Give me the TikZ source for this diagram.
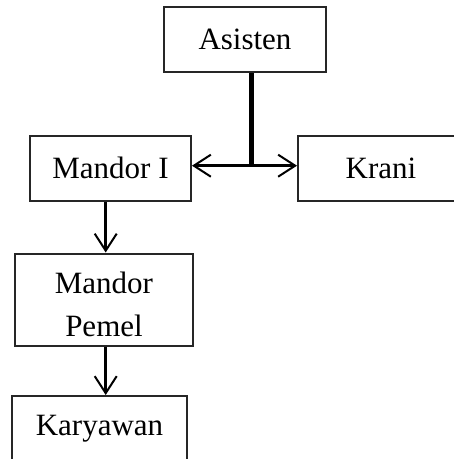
\documentclass[tikz,border=0pt]{standalone}
\usepackage{fontspec}
\setmainfont{Liberation Serif}
\usetikzlibrary{arrows.meta}
\begin{document}
\begin{tikzpicture}[x=1pt,y=1pt,
  label text/.style={inner sep=0pt, align=center, font=\fontsize{31}{43}\selectfont},
  orgbox/.style={label text, draw=black!85, line width=2pt, minimum height=65pt},
  link/.style={line width=2.5pt, -{Straight Barb[length=17pt,width=22pt,line width=2pt]}},
  trunk/.style={line width=5pt}]
  \useasboundingbox (0,0) rectangle (454,-459);
  \clip (0,0) rectangle (454,-459);

  % boxes
  \node[orgbox, minimum width=162pt] (asisten) at (245,-39.5) {Asisten};
  \node[orgbox, minimum width=161pt] (mandor) at (110.5,-168.2) {Mandor I};
  \node[orgbox, minimum width=166pt] (krani) at (381,-168.2) {Krani};
  \node[orgbox, minimum width=178pt, minimum height=92pt] (pemel) at (104,-299.5) {};
  \node[label text] (pemeltext) at ([yshift=-5pt]pemel.center) {Mandor\\Pemel};
  \node[orgbox, minimum width=175pt] (karyawan) at (99.5,-428.5) {Karyawan};

  % connectors
  \coordinate (j) at (251.7,-165.7);
  \draw[trunk] (asisten.south -| j) -- ([yshift=-1pt]j);
  \draw[link] (j) -- (j -| mandor.east);
  \draw[link] (j) -- (j -| krani.west);
  \coordinate (v) at (105.7,0);
  \draw[link] (mandor.south -| v) -- (pemel.north -| v);
  \draw[link] (pemel.south -| v) -- (karyawan.north -| v);
\end{tikzpicture}
\end{document}
